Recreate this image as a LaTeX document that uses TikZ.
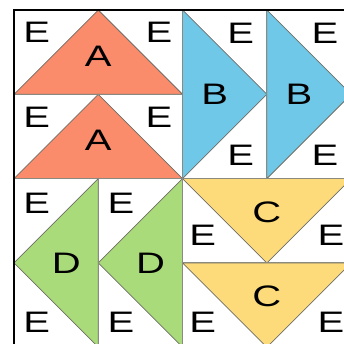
\documentclass[tikz,border=0pt]{standalone}
\usepackage{fontspec}
\newfontfamily\quiltfont[FakeStretch=1.35]{Liberation Sans}
\usetikzlibrary{positioning}
\definecolor{Coral}{HTML}{FA8B6B}
\definecolor{Sky}{HTML}{6FC8E8}
\definecolor{Lime}{HTML}{AADB7A}
\definecolor{Butter}{HTML}{FDDB7B}
\definecolor{Seam}{HTML}{8A8A80}

\begin{document}
\begin{tikzpicture}[x=2cm, y=2cm,
    letter/.style={inner sep=0pt, font=\quiltfont\fontsize{20}{22}\selectfont},
    goose/.style={draw=Seam!80!black, line width=0.5pt}]
    \clip (-0.166,-3.962) rectangle (3.915,0.119);
    % geese
    \filldraw[goose, fill=Coral] (0,-1) -- (1,0) -- (2,-1) -- cycle;
    \filldraw[goose, fill=Coral] (0,-2) -- (1,-1) -- (2,-2) -- cycle;
    \filldraw[goose, fill=Sky] (2,0) -- (3,-1) -- (2,-2) -- cycle;
    \filldraw[goose, fill=Sky] (3,0) -- (4,-1) -- (3,-2) -- cycle;
    \filldraw[goose, fill=Lime] (1,-2) -- (0,-3) -- (1,-4) -- cycle;
    \filldraw[goose, fill=Lime] (2,-2) -- (1,-3) -- (2,-4) -- cycle;
    \filldraw[goose, fill=Butter] (2,-2) -- (3,-3) -- (4,-2) -- cycle;
    \filldraw[goose, fill=Butter] (2,-3) -- (3,-4) -- (4,-3) -- cycle;
    % seams
    \draw[Seam, line width=0.7pt] (0,-1) -- (2,-1);
    \draw[Seam, line width=0.7pt] (3,0) -- (3,-2);
    \draw[Seam, line width=0.7pt] (1,-2) -- (1,-4);
    \draw[Seam, line width=0.7pt] (2,-3) -- (4,-3);
    \draw[Seam, line width=0.7pt] (0,-2) -- (4,-2);
    \draw[Seam, line width=0.7pt] (2,0) -- (2,-4);
    \draw[line width=1pt] (0,-4) rectangle (4,0);
    % letters
    \node[letter] (a1) at (1,-0.55) {A};
    \node[letter] (a2) at (1,-1.54) {A};
    \node[letter] (b1) at (2.38,-1) {B};
    \node[letter] (b2) at (3.38,-1) {B};
    \node[letter] (c1) at (3,-2.4) {C};
    \node[letter] (c2) at (3,-3.4) {C};
    \node[letter] (d1) at (0.62,-3) {D};
    \node[letter] (d2) at (1.62,-3) {D};
    \node[letter] (e1) at (0.27,-0.27) {E};
    \node[letter] (e2) at (1.72,-0.27) {E};
    \node[letter] (e3) at (0.27,-1.27) {E};
    \node[letter] (e4) at (1.72,-1.27) {E};
    \node[letter] (e5) at (2.69,-0.28) {E};
    \node[letter] (e6) at (3.69,-0.28) {E};
    \node[letter] (e7) at (2.69,-1.72) {E};
    \node[letter] (e8) at (3.69,-1.72) {E};
    \node[letter] (e9) at (0.27,-2.29) {E};
    \node[letter] (e10) at (1.27,-2.29) {E};
    \node[letter] (e11) at (0.27,-3.71) {E};
    \node[letter] (e12) at (1.27,-3.71) {E};
    \node[letter] (e13) at (2.24,-2.67) {E};
    \node[letter] (e14) at (3.76,-2.67) {E};
    \node[letter] (e15) at (2.24,-3.71) {E};
    \node[letter] (e16) at (3.76,-3.71) {E};
\end{tikzpicture}
\end{document}
